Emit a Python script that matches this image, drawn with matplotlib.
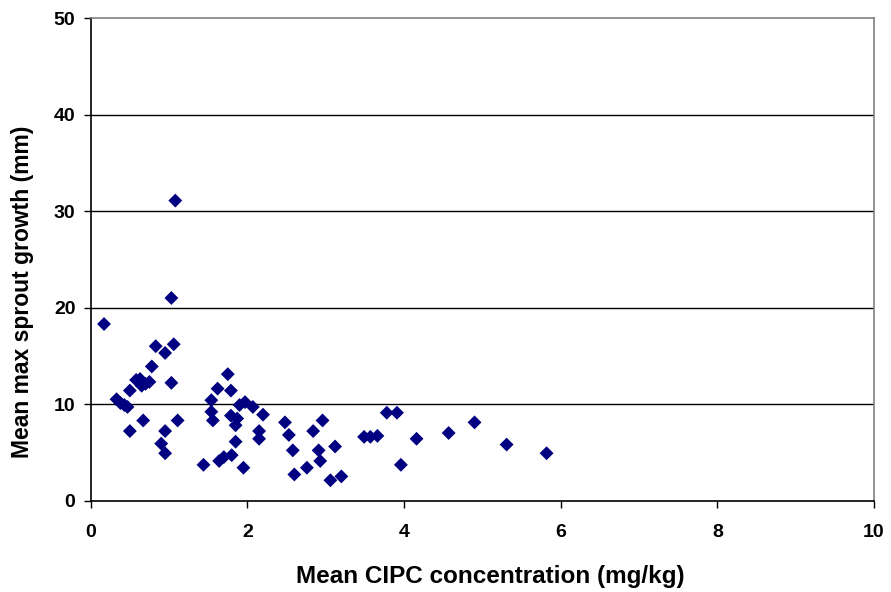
import matplotlib
matplotlib.use("Agg")
import matplotlib.pyplot as plt

cipc = [1.08, 1.03, 0.17, 0.83, 1.06, 0.95, 0.78, 1.75, 0.58, 0.63, 0.70, 0.75, 0.65,
        1.03, 0.50, 1.62, 1.79, 0.33, 0.38, 0.47, 0.43, 1.54, 1.54, 1.56, 1.90, 1.97,
        2.07, 2.20, 1.79, 1.87, 1.85, 0.67, 1.11, 0.50, 0.95, 2.15, 2.15, 1.85, 0.90,
        0.95, 1.44, 1.64, 1.70, 1.80, 1.95, 2.48, 2.53, 2.58, 2.60, 2.76, 2.96, 2.84,
        2.91, 2.93, 3.12, 3.06, 3.20, 3.49, 3.57, 3.66, 3.78, 3.91, 4.16, 3.96, 4.57,
        4.90, 5.31, 5.82]
sprout = [31.1, 21.0, 18.3, 16.0, 16.2, 15.3, 13.9, 13.1, 12.5, 12.6, 12.1, 12.3, 11.9,
          12.2, 11.4, 11.6, 11.4, 10.5, 10.1, 9.7, 9.9, 10.4, 9.2, 8.3, 9.9, 10.2,
          9.7, 8.9, 8.8, 8.5, 7.8, 8.3, 8.3, 7.2, 7.2, 7.2, 6.4, 6.1, 5.9,
          4.9, 3.7, 4.1, 4.5, 4.7, 3.4, 8.1, 6.8, 5.2, 2.7, 3.4, 8.3, 7.2,
          5.2, 4.1, 5.6, 2.1, 2.5, 6.6, 6.6, 6.7, 9.1, 9.1, 6.4, 3.7, 7.0,
          8.1, 5.8, 4.9]

xticks = [0, 2, 4, 6, 8, 10]
yticks = [0, 10, 20, 30, 40, 50]

plt.rcParams['font.family'] = ['Liberation Sans', 'DejaVu Sans']
fig = plt.figure(figsize=(8.91, 5.92), dpi=100)
x0, x1, y0, y1 = 90.7, 874.0, 500.5, 18.3
ax = fig.add_axes([x0/891, 1 - y0/592, (x1 - x0)/891, (y0 - y1)/592])

ax.scatter(cipc, sprout, marker='D', s=50, color='#000080', edgecolors='none', zorder=3)

ax.set_xlim(0, 10)
ax.set_ylim(0, 50)
ax.set_xticks(xticks)
ax.set_yticks(yticks)
ax.set_xticklabels([str(t) for t in xticks], fontsize=14, fontweight='bold')
ax.set_yticklabels([str(t) for t in yticks], fontsize=14, fontweight='bold')
ax.tick_params(axis='both', direction='out', length=5, width=1, color='black')
ax.tick_params(axis='x', pad=12)
ax.tick_params(axis='y', pad=6)

for y in yticks[1:-1]:
    ax.axhline(y, color='black', linewidth=1, zorder=1)

ax.spines['left'].set_color('black')
ax.spines['bottom'].set_color('black')
ax.spines['top'].set_color('#808080')
ax.spines['right'].set_color('#808080')
for s in ax.spines.values():
    s.set_linewidth(1.2)

ax.set_xlabel('Mean CIPC concentration (mg/kg)', fontsize=17.5, fontweight='bold')
ax.xaxis.set_label_coords((490 - x0)/(x1 - x0), -(576 - y0)/(y0 - y1))
ax.xaxis.label.set_va('center')
ax.set_ylabel('Mean max sprout growth (mm)', fontsize=16.5, fontweight='bold')
ax.yaxis.set_label_coords(-(x0 - 23)/(x1 - x0), (y0 - 292)/(y0 - y1))
ax.yaxis.label.set_va('center')

fig.savefig('out.png', dpi=100)
